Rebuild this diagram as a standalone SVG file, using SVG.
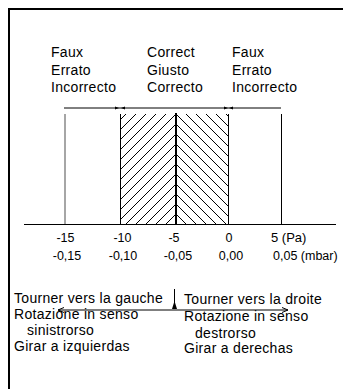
<svg xmlns="http://www.w3.org/2000/svg" width="343" height="389" viewBox="0 0 343 389">
<style>
text{font-family:"Liberation Sans",Arial,sans-serif;font-size:13px;fill:#000}
.lbl text{font-size:14px;letter-spacing:0.3px}
.tk{font-size:12.5px;text-anchor:middle}
.ln{stroke:#000;stroke-width:1;fill:none}
</style>
<defs>
<pattern id="hatchL" patternUnits="userSpaceOnUse" width="10" height="10">
<path d="M-1,1 L1,-1 M0,10 L10,0 M9,11 L11,9" stroke="#000" stroke-width="1"/>
</pattern>
<pattern id="hatchR" patternUnits="userSpaceOnUse" x="2" width="10" height="10">
<path d="M-1,9 L1,11 M0,0 L10,10 M9,-1 L11,1" stroke="#000" stroke-width="1"/>
</pattern>
<marker id="openArrow" markerWidth="8" markerHeight="8" refX="7" refY="4" orient="auto-start-reverse" markerUnits="userSpaceOnUse">
<path d="M1,1.5 L7,4 L1,6.5" fill="none" stroke="#000" stroke-width="1"/>
</marker>
</defs>
<rect width="343" height="389" fill="#fff"/>
<g id="frame">
<path d="M9,389 V9 H343" fill="none" stroke="#000" stroke-width="2"/>
</g>
<g id="labels-top">
<g id="left-wrong" class="lbl">
<text x="51" y="57">Faux</text>
<text x="51" y="75">Errato</text>
<text x="51" y="92">Incorrecto</text>
</g>
<g id="center-correct" class="lbl">
<text x="147" y="57">Correct</text>
<text x="147" y="75">Giusto</text>
<text x="147" y="92">Correcto</text>
</g>
<g id="right-wrong" class="lbl">
<text x="232" y="57">Faux</text>
<text x="232" y="75">Errato</text>
<text x="232" y="92">Incorrecto</text>
</g>
</g>
<g id="scale">
<rect x="120" y="114" width="56" height="110" fill="url(#hatchL)"/>
<rect x="176" y="114" width="52" height="110" fill="url(#hatchR)"/>
<line x1="65" y1="114" x2="65" y2="224" stroke="#888" stroke-width="1.5"/>
<line class="ln" x1="120.5" y1="114" x2="120.5" y2="224"/>
<line x1="176" y1="113" x2="176" y2="224" stroke="#000" stroke-width="2"/>
<line class="ln" x1="228.5" y1="114" x2="228.5" y2="224"/>
<line class="ln" x1="281.5" y1="114" x2="281.5" y2="224"/>
<line class="ln" x1="24" y1="224.5" x2="336" y2="224.5"/>
<line class="ln" x1="64" y1="108" x2="281" y2="108"/>
<path d="M115,106.5 L119,108 L115,109.5 Z M125,106.5 L121,108 L125,109.5 Z M224,106.5 L228,108 L224,109.5 Z M233,106.5 L229,108 L233,109.5 Z" fill="#000"/>
</g>
<g id="ticks-pa">
<text class="tk" x="65.5" y="241.5">-15</text>
<text class="tk" x="122.5" y="241.5">-10</text>
<text class="tk" x="174" y="241.5">-5</text>
<text class="tk" x="229" y="241.5">0</text>
<text x="271" y="241.5" style="font-size:13px">5 (Pa)</text>
</g>
<g id="ticks-mbar">
<text class="tk" x="67" y="260">-0,15</text>
<text class="tk" x="123" y="260">-0,10</text>
<text class="tk" x="178" y="260">-0,05</text>
<text class="tk" x="231" y="260">0,00</text>
<text x="273" y="260" style="font-size:12.5px">0,05 (mbar)</text>
</g>
<g id="connectors">
<line class="ln" x1="174" y1="310" x2="58" y2="310" marker-end="url(#openArrow)"/>
<line class="ln" x1="174" y1="310" x2="288" y2="310" marker-end="url(#openArrow)"/>
<line class="ln" x1="174.5" y1="289" x2="174.5" y2="303"/>
<path d="M174.5,301 L177,309 L172,309 Z" fill="#000"/>
</g>
<g id="turn-left" class="lbl">
<text x="14" y="303">Tourner vers la gauche</text>
<text x="14" y="319">Rotazione in senso</text>
<text x="27" y="335">sinistrorso</text>
<text x="14" y="351">Girar a izquierdas</text>
</g>
<g id="turn-right" class="lbl">
<text x="184" y="304">Tourner vers la droite</text>
<text x="184" y="320.5">Rotazione in senso</text>
<text x="195" y="337.5">destrorso</text>
<text x="184" y="353">Girar a derechas</text>
</g>
</svg>
